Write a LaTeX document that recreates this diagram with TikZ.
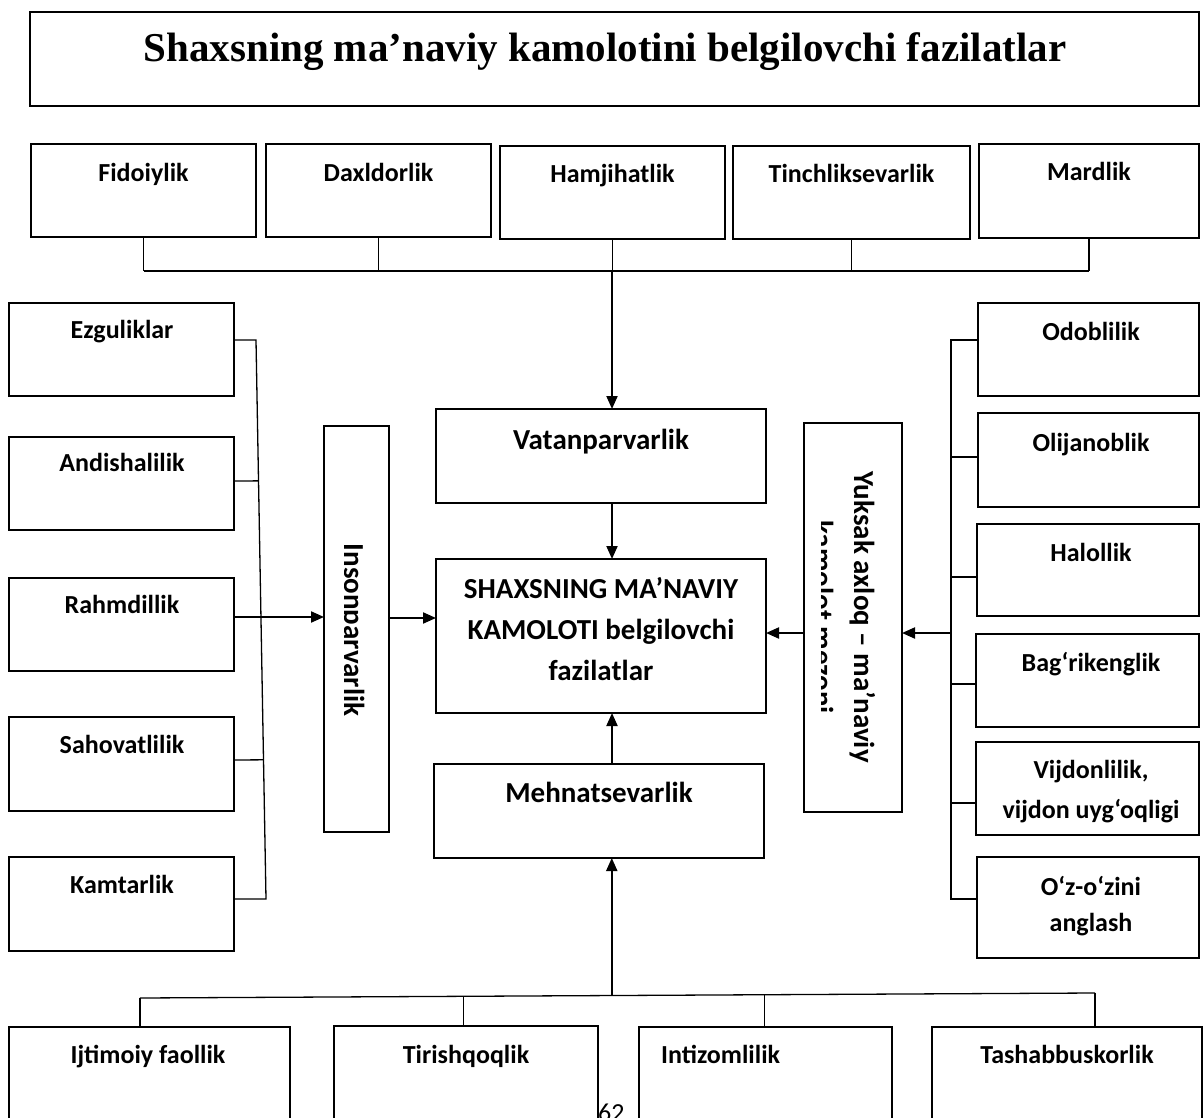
\documentclass[tikz,border=0pt]{standalone}
\usepackage{fontspec}
\setmainfont{Carlito}
\newfontfamily\titlefont{Liberation Serif}
\usetikzlibrary{arrows.meta,fit,calc}
\begin{document}
\begin{tikzpicture}[x=1pt,y=-1pt,
  box/.style={draw, line width=1.7pt, inner sep=0pt, outer sep=0pt},
  lbl/.style={font=\fontsize{26}{32}\selectfont\bfseries, anchor=base, inner sep=0pt},
  big/.style={font=\fontsize{29}{41}\selectfont\bfseries, anchor=base, inner sep=0pt},
  vt/.style={font=\fontsize{29}{41}\selectfont\bfseries, anchor=base, inner sep=0pt, rotate=-90},
  conn/.style={line width=1.3pt},
  arr/.style={line width=2pt, -{Triangle[length=13pt,width=11pt]}},
]
\clip (0,0) rectangle (1203,1118);
\fill[white] (0,0) rectangle (1203,1118);

% title
\node[box, fit={(30,12) (1199,106)}] (title) {};
\node[font=\titlefont\fontsize{41}{48}\selectfont\bfseries, anchor=base, inner sep=0pt] (titlet) at (605,62) {Shaxsning ma’naviy kamolotini belgilovchi fazilatlar};

% top row
\node[box, fit={(31,144) (256,237)}] (fid) {};
\node[box, fit={(266,144) (491,237)}] (dax) {};
\node[box, fit={(500,146) (725,239)}] (ham) {};
\node[box, fit={(733,146) (970,239)}] (tin) {};
\node[box, fit={(979,144) (1199,238)}] (mar) {};
\node[lbl] (fidt) at (143.5,182) {Fidoiylik};
\node[lbl] (daxt) at (378.5,182) {Daxldorlik};
\node[lbl] (hamt) at (612.5,183) {Hamjihatlik};
\node[lbl] (tint) at (851.5,183) {Tinchliksevarlik};
\node[lbl] (mart) at (1089,181) {Mardlik};

% left column
\node[box, fit={(9,303) (234,396)}] (ezg) {};
\node[box, fit={(9,437) (234,530)}] (and) {};
\node[box, fit={(9,578) (234,671)}] (rah) {};
\node[box, fit={(9,717) (234,811)}] (sah) {};
\node[box, fit={(9,857) (234,951)}] (kam) {};
\node[lbl] (ezgt) at (122,338) {Ezguliklar};
\node[lbl] (andt) at (122,471) {Andishalilik};
\node[lbl] (raht) at (122,613) {Rahmdillik};
\node[lbl] (saht) at (122,753) {Sahovatlilik};
\node[lbl] (kamt) at (122,893) {Kamtarlik};

% right column
\node[box, fit={(978,303) (1199,396)}] (odo) {};
\node[box, fit={(978,413) (1199,507)}] (oli) {};
\node[box, fit={(977,524) (1199,616)}] (hal) {};
\node[box, fit={(976,634) (1199,727)}] (bag) {};
\node[box, fit={(976,742) (1199,835)}] (vij) {};
\node[box, fit={(977,857) (1199,958)}] (ozo) {};
\node[lbl] (odot) at (1091,341) {Odoblilik};
\node[lbl] (olit) at (1091,451) {Olijanoblik};
\node[lbl] (halt) at (1091,561) {Halollik};
\node[lbl] (bagt) at (1091,671) {Bag‘rikenglik};
\node[lbl] (vijt1) at (1091,778) {Vijdonlilik,};
\node[lbl] (vijt2) at (1091,818) {vijdon uyg‘oqligi};
\node[lbl] (ozot1) at (1091,895) {O‘z-o‘zini};
\node[lbl] (ozot2) at (1091,931) {anglash};

% centre column
\node[box, fit={(436,409) (766,503)}] (vat) {};
\node[box, fit={(436,559) (766,713)}] (cen) {};
\node[box, fit={(434,764) (764,858)}] (meh) {};
\node[big] (vatt) at (601,449) {Vatanparvarlik};
\node[big] (cent1) at (601,598) {SHAXSNING MA’NAVIY};
\node[big] (cent2) at (601,639) {KAMOLOTI belgilovchi};
\node[big] (cent3) at (601,680) {fazilatlar};
\node[big] (meht) at (599,802) {Mehnatsevarlik};

% vertical boxes
\node[box, fit={(324,426) (389,832)}] (ins) {};
\node[box, fit={(804,423) (902,812)}] (yuk) {};
\begin{scope}
  \clip (344,426) rectangle (389,832);
  \node[vt] (inst) at (344,630) {Insonparvarlik};
\end{scope}
\begin{scope}
  \clip (821,423) rectangle (902,812);
  \node[vt] (yukt1) at (854,617) {Yuksak axloq – ma’naviy};
  \node[vt] (yukt2) at (813,617) {kamolot mezoni};
\end{scope}

% bottom row
\node[box, fit={(9,1027) (290,1135)}] (ijt) {};
\node[box, fit={(334,1026) (598,1135)}] (tir) {};
\node[box, fit={(639,1027) (892,1135)}] (int) {};
\node[box, fit={(932,1027) (1202,1135)}] (tas) {};
\node[lbl] (ijtt) at (148,1063) {Ijtimoiy faollik};
\node[lbl] (tirt) at (466,1063) {Tirishqoqlik};
\node[lbl, anchor=base west] (intt) at (661,1063) {Intizomlilik};
\node[lbl] (tast) at (1067,1063) {Tashabbuskorlik};
\node[font=\fontsize{26}{30}\selectfont, anchor=base west, inner sep=0pt] (page) at (598,1121) {62};

% top bus
\coordinate (topbus) at (612,271);
\foreach \n in {fid,dax,ham,tin,mar}
  \draw[conn] (\n.south) -- (\n.south |- topbus);
\draw[conn] (fid.south |- topbus) -- (mar.south |- topbus);
\draw[arr] (topbus) -- (topbus |- vat.north);
\draw[arr] (vat.south -| topbus) -- (cen.north -| topbus);
\draw[arr] (meh.north -| topbus) -- (cen.south -| topbus);

% left bus
\coordinate (lb1) at (256,340);
\coordinate (lb5) at (266,899);
\coordinate (lrow) at (0,617);
\draw[conn] (ezg.east |- lb1) -- (lb1) -- (lb5) -- (kam.east |- lb5);
\draw[conn] (and.east |- 0,481) -- ($(lb1)!0.252!(lb5)$);
\draw[conn] (sah.east |- 0,760) -- ($(lb1)!0.751!(lb5)$);
\draw[arr] (rah.east |- lrow) -- (ins.west |- lrow);
\draw[arr] (ins.east |- 0,618) -- (cen.west |- 0,618);

% right bus
\coordinate (rb1) at (951,340);
\coordinate (rb6) at (951,899);
\coordinate (ra) at (951,633);
\draw[conn] (odo.west |- rb1) -- (rb1) -- (rb6) -- (ozo.west |- rb6);
\draw[conn] (oli.west |- 0,457) -- (951,457);
\draw[conn] (hal.west |- 0,577) -- (951,577);
\draw[conn] (bag.west |- 0,684) -- (951,684);
\draw[conn] (vij.west |- 0,803) -- (951,803);
\draw[arr] (ra) -- (ra -| yuk.east);
\draw[arr] (yuk.west |- ra) -- (cen.east |- ra);

% bottom bus
\coordinate (bb1) at (140,998);
\coordinate (bb2) at (1095,993);
\draw[conn] (bb1) -- (bb2);
\draw[conn] (bb1) -- (bb1 |- ijt.north);
\coordinate (bt2) at ($(bb1)!0.339!(bb2)$);
\coordinate (bt3) at ($(bb1)!0.654!(bb2)$);
\coordinate (bmid) at ($(bb1)!0.494!(bb2)$);
\draw[conn] (bt2) -- (bt2 |- tir.north);
\draw[conn] (bt3) -- (bt3 |- int.north);
\draw[conn] (bb2) -- (bb2 |- tas.north);
\draw[arr] (bmid) -- (bmid |- meh.south);
\end{tikzpicture}
\end{document}
